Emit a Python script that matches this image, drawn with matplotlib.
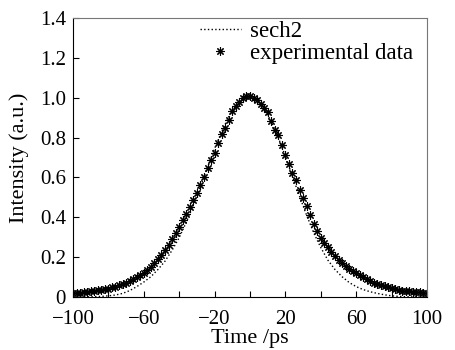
import matplotlib
matplotlib.use('Agg')
import matplotlib.pyplot as plt

plt.rcParams['font.family'] = ['Liberation Serif', 'DejaVu Serif']
plt.rcParams['mathtext.fontset'] = 'stix'

# experimental data (time in ps, normalized intensity)
exp_time = [-100, -98, -96, -94, -92, -90, -88, -86, -84, -82,
            -80, -78, -76, -74, -72, -70, -68, -66, -64, -62,
            -60, -58, -56, -54, -52, -50, -48, -46, -44, -42,
            -40, -38, -36, -34, -32, -30, -28, -26, -24, -22,
            -20, -18, -16, -14, -12, -10, -8, -6, -4, -2,
            0, 2, 4, 6, 8, 10, 12, 14, 16, 18,
            20, 22, 24, 26, 28, 30, 32, 34, 36, 38,
            40, 42, 44, 46, 48, 50, 52, 54, 56, 58,
            60, 62, 64, 66, 68, 70, 72, 74, 76, 78,
            80, 82, 84, 86, 88, 90, 92, 94, 96, 98, 100]
exp_int = [0.020, 0.022, 0.020, 0.024, 0.025, 0.028, 0.032, 0.033, 0.036, 0.040,
           0.042, 0.048, 0.052, 0.058, 0.064, 0.072, 0.080, 0.088, 0.098, 0.108,
           0.120, 0.134, 0.152, 0.172, 0.192, 0.212, 0.236, 0.262, 0.290, 0.320,
           0.352, 0.385, 0.418, 0.453, 0.488, 0.522, 0.560, 0.600, 0.645, 0.688,
           0.725, 0.775, 0.818, 0.850, 0.890, 0.932, 0.958, 0.980, 0.998, 1.008,
           1.008, 1.000, 0.990, 0.968, 0.950, 0.926, 0.885, 0.840, 0.812, 0.765,
           0.712, 0.665, 0.622, 0.585, 0.537, 0.495, 0.455, 0.410, 0.368, 0.330,
           0.298, 0.270, 0.250, 0.226, 0.205, 0.188, 0.172, 0.156, 0.140, 0.128,
           0.118, 0.108, 0.100, 0.088, 0.078, 0.072, 0.064, 0.060, 0.055, 0.048,
           0.045, 0.040, 0.036, 0.032, 0.030, 0.028, 0.026, 0.024, 0.026, 0.022, 0.020]

# sech2 fit curve
fit_time = [-100, -90, -84, -80, -76, -72, -68, -64, -60, -56,
            -52, -48, -44, -40, -36, -32, -28, -24, -20, -16,
            -12, -8, -4, 0, 4, 8, 12, 16, 20, 24,
            28, 32, 36, 40, 44, 48, 52, 56, 60, 64,
            68, 72, 76, 80, 84, 90, 100]
fit_int = [0.000, 0.001, 0.003, 0.006, 0.010, 0.018, 0.032, 0.052, 0.075, 0.102,
           0.138, 0.180, 0.235, 0.298, 0.375, 0.460, 0.555, 0.650, 0.745, 0.830,
           0.905, 0.960, 0.993, 1.000, 0.985, 0.945, 0.880, 0.800, 0.705, 0.605,
           0.505, 0.410, 0.322, 0.248, 0.185, 0.138, 0.102, 0.073, 0.052, 0.037,
           0.026, 0.018, 0.011, 0.006, 0.003, 0.001, 0.000]

x_ticks = [-100, -80, -60, -40, -20, 0, 20, 40, 60, 80, 100]
x_labels = ['\u2212100', '', '\u221260', '', '\u221220', '', '20', '', '60', '', '100']
y_ticks = [0, 0.2, 0.4, 0.6, 0.8, 1.0, 1.2, 1.4]
y_labels = ['0', '0.2', '0.4', '0.6', '0.8', '1.0', '1.2', '1.4']

fig = plt.figure(figsize=(4.55, 3.5), dpi=100)
ax = fig.add_axes([0.1604, 0.1514, 0.7781, 0.7972])

ax.plot(fit_time, fit_int, linestyle=':', color='black', linewidth=1.0, label='sech2')
ax.plot(exp_time, exp_int, linestyle='none', marker=(8, 2, 0), markersize=6,
        markeredgewidth=0.8, color='black', label='experimental data')

ax.set_xlim(-100, 100)
ax.set_ylim(0, 1.4)
ax.set_xticks(x_ticks)
ax.set_xticklabels(x_labels)
ax.set_yticks(y_ticks)
ax.set_yticklabels(y_labels)
ax.tick_params(direction='in', length=4, width=0.8, labelsize=15)
ax.tick_params(axis='x', pad=9)
ax.tick_params(axis='y', pad=5)
ax.set_xlabel('Time /ps', fontsize=16, labelpad=0)
ax.set_ylabel('Intensity (a.u.)', fontsize=16, labelpad=8)

for side in ['top', 'right']:
    ax.spines[side].set_color('#777777')
for side in ['left', 'bottom']:
    ax.spines[side].set_color('black')

ax.legend(loc='upper right', bbox_to_anchor=(1.0, 1.04), frameon=False, fontsize=16.5,
          handlelength=1.8, handletextpad=0.4, labelspacing=0.05, borderaxespad=0.2)

fig.savefig('out.png', dpi=100)
